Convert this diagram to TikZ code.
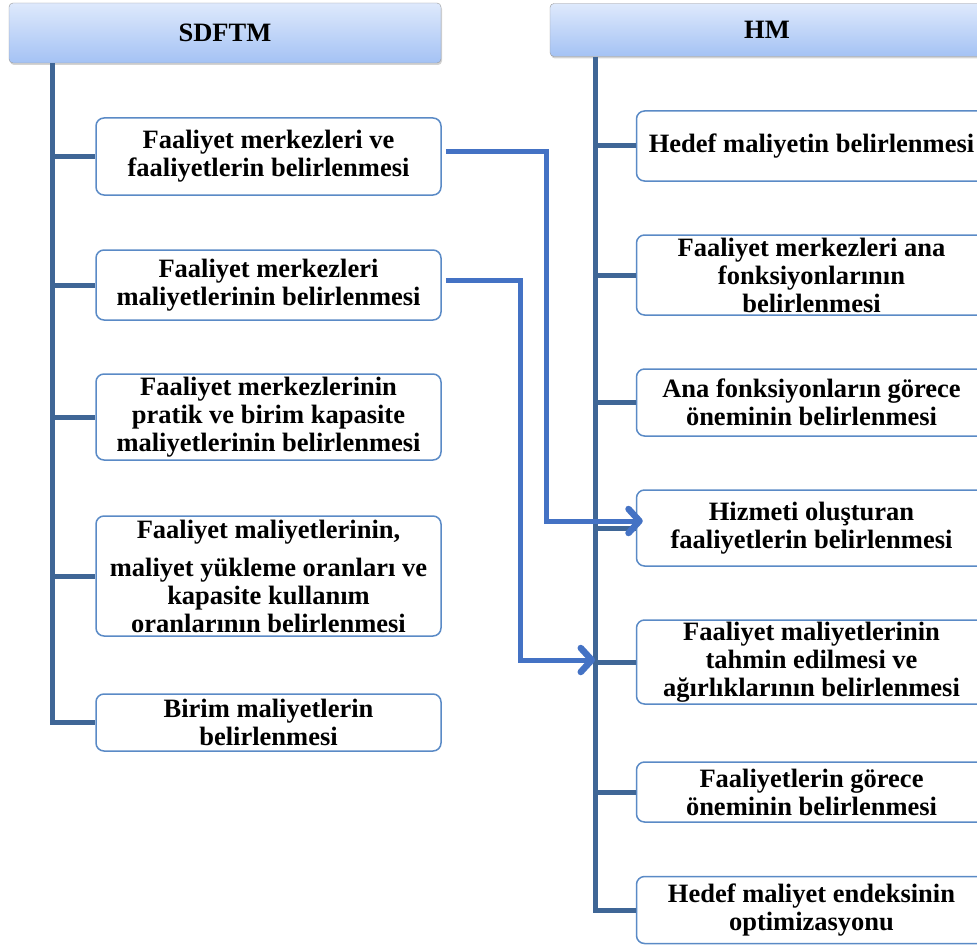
\documentclass[tikz,border=0pt]{standalone}
\usepackage{fontspec}
\setmainfont{Liberation Serif}
\usetikzlibrary{arrows.meta,positioning,calc,shadows}
\definecolor{trunk}{RGB}{63,102,150}
\definecolor{link}{RGB}{68,114,196}
\definecolor{frame}{RGB}{90,138,198}
\definecolor{headtop}{RGB}{222,233,252}
\definecolor{headbot}{RGB}{164,194,244}

\begin{document}
\begin{tikzpicture}[x=1pt,y=-1pt,
  head/.style={draw=gray!80,rounded corners=4pt,top color=headtop,bottom color=headbot,
               drop shadow={shadow xshift=1pt,shadow yshift=-2pt,opacity=0.35},
               minimum width=432pt,minimum height=60pt,
               font=\fontsize{26.5}{28}\selectfont\bfseries},
  task/.style={draw=frame,line width=1.5pt,rounded corners=8pt,fill=white,
               align=center,minimum width=345pt,inner sep=0pt,
               font=\fontsize{26.5}{28}\selectfont\bfseries},
  spine/.style={draw=trunk,line width=5pt},
  arr/.style={draw=link,line width=5pt,
              -{Straight Barb[length=11pt,width=24pt,line width=6.5pt,round]}}
]
\useasboundingbox (0,0) rectangle (977,947);
% Left column (x=268): SDFTM steps
% Right column (x=811): HM steps, cut by the right page edge
\coordinate (tL) at (52,0);
\coordinate (tR) at (595,0);

\path (225,33) coordinate (hL) (767,30) coordinate (hR);

\node[head] (hdL) at (hL) {SDFTM};
\node[head,minimum width=434pt,minimum height=53pt] (hdR) at (hR) {HM};

\node[task,minimum height=77pt]  (l1) at (268.5,156.5) {Faaliyet merkezleri ve\\faaliyetlerin belirlenmesi};
\node[task,minimum height=70pt]  (l2) at (268.5,285)   {Faaliyet merkezleri\\maliyetlerinin belirlenmesi};
\node[task,minimum height=86pt]  (l3) at (268.5,417)   {Faaliyet merkezlerinin\\pratik ve birim kapasite\\maliyetlerinin belirlenmesi};
\node[task,minimum height=120pt] (l4) at (268.5,576)   {Faaliyet maliyetlerinin,\\[10pt]maliyet yükleme oranları ve\\kapasite kullanım\\oranlarının belirlenmesi};
\node[task,minimum height=57pt]  (l5) at (268.5,722.5) {Birim maliyetlerin\\belirlenmesi};

\node[task,minimum width=350pt,minimum height=70pt] (r1) at (811.5,146)   {Hedef maliyetin belirlenmesi};
\node[task,minimum width=350pt,minimum height=80pt] (r2) at (811.5,275)   {Faaliyet merkezleri ana\\fonksiyonlarının\\belirlenmesi};
\node[task,minimum width=350pt,minimum height=67pt] (r3) at (811.5,402.5) {Ana fonksiyonların görece\\öneminin belirlenmesi};
\node[task,minimum width=350pt,minimum height=76pt] (r4) at (811.5,528)   {Hizmeti oluşturan\\faaliyetlerin belirlenmesi};
\node[task,minimum width=350pt,minimum height=84pt] (r5) at (811.5,662)   {Faaliyet maliyetlerinin\\tahmin edilmesi  ve\\ağırlıklarının belirlenmesi};
\node[task,minimum width=350pt,minimum height=60pt] (r6) at (811.5,792)   {Faaliyetlerin görece\\öneminin belirlenmesi};
\node[task,minimum width=350pt,minimum height=67pt] (r7) at (811.5,910)   {Hedef maliyet endeksinin\\optimizasyonu};

% Spines
\draw[spine] (tL |- hdL.south) -- (tL |- l5.west) -- (l5.west);
\foreach \i in {1,...,4}
  \draw[spine] (tL |- l\i.west) -- (l\i.west);
\draw[spine] (tR |- hdR.south) -- (tR |- r7.west) -- (r7.west);
\foreach \i in {1,...,6}
  \draw[spine] (tR |- r\i.west) -- (r\i.west);

% Links between the two methods
\coordinate (k1) at (546,521);
\coordinate (k2) at (520,660);
\draw[arr,shorten >=-7pt] ([xshift=4pt,yshift=5pt]l1.east) -| (k1) -- (k1 -| r4.west);
\draw[arr] ([xshift=4pt,yshift=5pt]l2.east) -| (k2) -- (k2 -| tR);
\end{tikzpicture}
\end{document}
